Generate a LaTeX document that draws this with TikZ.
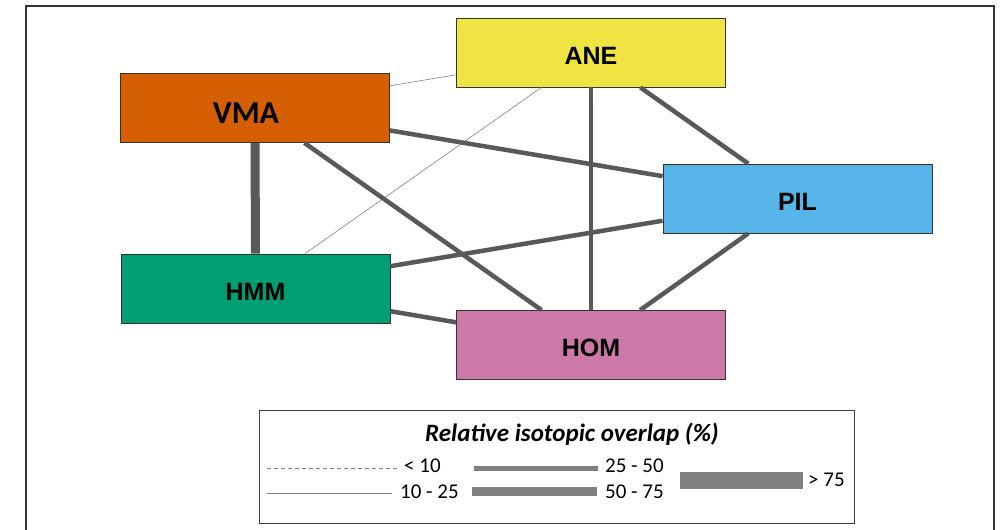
\documentclass[tikz,border=0pt]{standalone}
\usepackage{fontspec}
\setmainfont{Liberation Sans}
\newfontfamily\legendfont{Carlito}
\usepackage{tikz}

\definecolor{aneyellow}{HTML}{F0E442}
\definecolor{vmaorange}{HTML}{D55E00}
\definecolor{pilblue}{HTML}{56B4E9}
\definecolor{hmmgreen}{HTML}{009E73}
\definecolor{hompink}{HTML}{CC79A7}
\definecolor{edgegray}{HTML}{595959}
\definecolor{keygray}{HTML}{808080}

\begin{document}
\begin{tikzpicture}[x=1pt, y=-1pt, every node/.style={rectangle}]
	\tikzset{site/.style={draw=black!80, line width=0.8pt, minimum width=269pt, minimum height=69pt, text height=24pt, font=\bfseries\fontsize{25}{25}\selectfont},
		lowlink/.style={draw=gray, line width=0.6pt},
		midlink/.style={draw=edgegray, line width=4.5pt},
		highlink/.style={draw=edgegray, line width=9pt},
		keytext/.style={anchor=west, inner sep=0pt, font=\legendfont\fontsize{21}{21}\selectfont}}
	\useasboundingbox (0,0) rectangle (1002,530);
	\draw[line width=1.5pt, black!80] (26,530) -- (26,6) -- (994,6) -- (994,530);
	\node[site, fill=aneyellow] (ane) at (591,52.5) {ANE};
	\node[site, fill=vmaorange, text height=31pt, font=\legendfont\bfseries\fontsize{32}{32}\selectfont] (vma) at (255,108) {\hspace*{-18pt}VMA};
	\node[site, fill=pilblue] (pil) at (797.5,198.5) {PIL};
	\node[site, fill=hmmgreen] (hmm) at (255.5,288.5) {HMM};
	\node[site, fill=hompink] (hom) at (591,345) {HOM};
	\draw[lowlink] (vma) -- (ane);
	\draw[lowlink] (ane) -- (hmm);
	\draw[highlink] (vma) -- (hmm);
	\draw[midlink] (vma) -- (pil);
	\draw[midlink] (vma) -- (hom);
	\draw[midlink] (hmm) -- (pil);
	\draw[midlink] (hmm) -- (hom);
	\draw[midlink] (ane) -- (hom);
	\draw[midlink] (ane) -- (pil);
	\draw[midlink] (pil) -- (hom);
	\draw[line width=1pt, black!75] (259,410) rectangle (854,523);
	\node[font=\legendfont\bfseries\itshape\fontsize{25}{25}\selectfont] (keytitle) at (572,434) {Relative isotopic overlap (\%)};
	\coordinate (k1a) at (267,468);
	\coordinate (k1b) at (397,468);
	\coordinate (k2a) at (267,493);
	\coordinate (k2b) at (392,493);
	\draw[gray, line width=0.6pt, dash pattern=on 4pt off 3pt] (k1a) -- (k1b);
	\draw[gray, line width=0.8pt] (k2a) -- (k2b);
	\fill[keygray] (474,465.5) rectangle (598,470.5);
	\fill[keygray] (472,487) rectangle (597,496);
	\fill[keygray] (680,472) rectangle (803,489);
	\node[keytext] (klt) at (404,466) {< 10};
	\node[keytext] (klow) at (400,492) {10 - 25};
	\node[keytext] (kmid) at (605,466) {25 - 50};
	\node[keytext] (khigh) at (605,492) {50 - 75};
	\node[keytext] (kgt) at (808,480) {> 75};
\end{tikzpicture}
\end{document}
